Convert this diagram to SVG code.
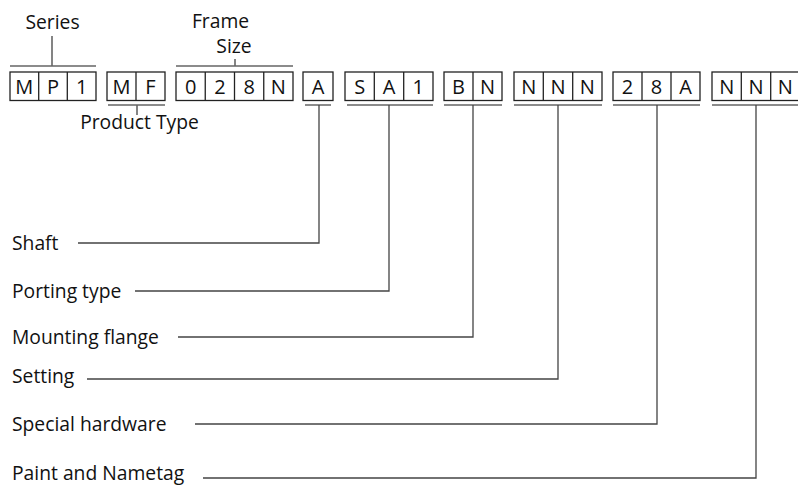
<svg xmlns="http://www.w3.org/2000/svg" width="798" height="485" viewBox="0 0 798 485">
<style>
text{font-family:"Open Sans","Liberation Sans",sans-serif;font-size:19.3px;fill:#111}
.k{font-size:20px}
.c{text-anchor:middle}
.box{fill:#fff;stroke:#222;stroke-width:1.3}
.div{stroke:#222;stroke-width:1.3}
.br{stroke:#666;stroke-width:1.6;fill:none}
.ln{stroke:#444;stroke-width:1.3;fill:none}
</style>
<rect width="798" height="485" fill="#fff"/>
<g id="series">
<rect class="box" x="10" y="72" width="86" height="28.5"/>
<line class="div" x1="38.7" y1="72" x2="38.7" y2="100.5"/>
<line class="div" x1="67.3" y1="72" x2="67.3" y2="100.5"/>
<text class="c k" x="24.3" y="94.3">M</text><text class="c k" x="53" y="94.3">P</text><text class="c k" x="81.7" y="94.3">1</text>
<text class="c" x="52.5" y="29">Series</text>
</g>
<g id="product-type">
<rect class="box" x="107" y="72" width="58" height="28.5"/>
<line class="div" x1="136" y1="72" x2="136" y2="100.5"/>
<text class="c k" x="121.5" y="94.3">M</text><text class="c k" x="150.5" y="94.3">F</text>
<text class="c" x="139.5" y="129">Product Type</text>
</g>
<g id="frame-size">
<rect class="box" x="176" y="72" width="117" height="28.5"/>
<line class="div" x1="205.25" y1="72" x2="205.25" y2="100.5"/>
<line class="div" x1="234.5" y1="72" x2="234.5" y2="100.5"/>
<line class="div" x1="263.75" y1="72" x2="263.75" y2="100.5"/>
<text class="c k" x="190.6" y="94.3">0</text><text class="c k" x="219.9" y="94.3">2</text><text class="c k" x="249.1" y="94.3">8</text><text class="c k" x="278.4" y="94.3">N</text>
<text class="c" x="220.5" y="28">Frame</text>
<text class="c" x="234" y="53">Size</text>
</g>
<g id="shaft">
<rect class="box" x="303" y="72" width="30" height="28.5"/>
<text class="c k" x="318" y="94.3">A</text>
<text x="12" y="250">Shaft</text>
</g>
<g id="porting-type">
<rect class="box" x="345" y="72" width="88" height="28.5"/>
<line class="div" x1="374.3" y1="72" x2="374.3" y2="100.5"/>
<line class="div" x1="403.7" y1="72" x2="403.7" y2="100.5"/>
<text class="c k" x="359.7" y="94.3">S</text><text class="c k" x="389" y="94.3">A</text><text class="c k" x="418.3" y="94.3">1</text>
<text x="12" y="298">Porting type</text>
</g>
<g id="mounting-flange">
<rect class="box" x="444" y="72" width="58" height="28.5"/>
<line class="div" x1="473" y1="72" x2="473" y2="100.5"/>
<text class="c k" x="458.5" y="94.3">B</text><text class="c k" x="487.5" y="94.3">N</text>
<text x="12" y="344">Mounting flange</text>
</g>
<g id="setting">
<rect class="box" x="514" y="72" width="88" height="28.5"/>
<line class="div" x1="543.3" y1="72" x2="543.3" y2="100.5"/>
<line class="div" x1="572.7" y1="72" x2="572.7" y2="100.5"/>
<text class="c k" x="528.7" y="94.3">N</text><text class="c k" x="558" y="94.3">N</text><text class="c k" x="587.3" y="94.3">N</text>
<text x="12" y="383">Setting</text>
</g>
<g id="special-hardware">
<rect class="box" x="613" y="72" width="87" height="28.5"/>
<line class="div" x1="642" y1="72" x2="642" y2="100.5"/>
<line class="div" x1="671" y1="72" x2="671" y2="100.5"/>
<text class="c k" x="627.5" y="94.3">2</text><text class="c k" x="656.5" y="94.3">8</text><text class="c k" x="685.5" y="94.3">A</text>
<text x="12" y="431">Special hardware</text>
</g>
<g id="paint-nametag">
<rect class="box" x="712" y="72" width="88" height="28.5"/>
<line class="div" x1="741.3" y1="72" x2="741.3" y2="100.5"/>
<line class="div" x1="770.7" y1="72" x2="770.7" y2="100.5"/>
<text class="c k" x="726.7" y="94.3">N</text><text class="c k" x="756" y="94.3">N</text><text class="c k" x="785.3" y="94.3">N</text>
<text x="12" y="480">Paint and Nametag</text>
</g>
<g id="connectors">
<path class="br" d="M10 66H96M52 36V66"/>
<path class="br" d="M176 66H293M235 59V66"/>
<path class="br" d="M108 105H165M137 105V115"/>
<path class="br" d="M305 105H331M347 105H433M444 105H502M514 105H602M613 105H700M712 105H800"/>
<path class="ln" d="M319 105V243H78"/>
<path class="ln" d="M389 105V291H135"/>
<path class="ln" d="M473 105V337H178"/>
<path class="ln" d="M558 105V379H87"/>
<path class="ln" d="M657 105V424H195"/>
<path class="ln" d="M756 105V478H203"/>
</g>
</svg>
